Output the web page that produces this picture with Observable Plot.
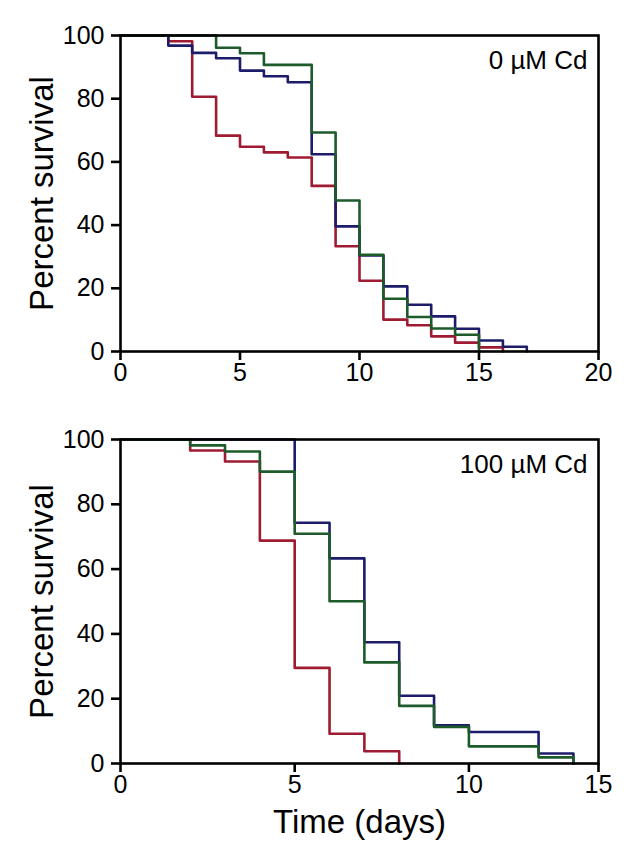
<!DOCTYPE html>
<html>
<head>
<meta charset="utf-8">
<script src="https://cdn.jsdelivr.net/npm/d3@7"></script>
<script src="https://cdn.jsdelivr.net/npm/@observablehq/plot@0.6"></script>
<style>
  html, body { margin: 0; padding: 0; background: #fff; }
  #chart { width: 637px; }
  #chart svg { display: block; }
</style>
</head>
<body>
<div id="chart"></div>
<script>
// ---- Data ----
const seriesNames = ["Strain A", "Strain B", "Strain C"];
const seriesColors = ["#9e1b32", "#1c1c6b", "#1d5b2b"];

// Panel 1: 0 µM Cd
const topTitle = "0 \u00b5M Cd";
const topAT = [0, 2, 3, 4, 5, 6, 7, 8, 9, 10, 11, 12, 13, 14, 15, 16];
const topAS = [100, 98.2, 80.6, 68.3, 64.8, 63.0, 61.4, 52.4, 33.3, 22.4, 10.1, 8.3, 4.8, 2.8, 1.3, 0];
const topBT = [0, 2, 3, 4, 5, 6, 7, 8, 9, 10, 11, 12, 13, 14, 15, 16, 17];
const topBS = [100, 96.8, 94.5, 92.8, 88.9, 87.1, 85.2, 62.4, 39.6, 30.4, 20.6, 14.8, 11.1, 7.2, 3.5, 1.5, 0];
const topCT = [0, 4, 5, 6, 8, 9, 10, 11, 12, 13, 14, 15];
const topCS = [100, 96.1, 94.4, 90.7, 69.3, 47.8, 30.6, 16.7, 10.9, 7.3, 5.3, 0];
const topXTicks = [0, 5, 10, 15, 20];

// Panel 2: 100 µM Cd
const bottomTitle = "100 \u00b5M Cd";
const botAT = [0, 2, 3, 4, 5, 6, 7, 8];
const botAS = [100, 96.6, 93.2, 68.8, 29.5, 9.2, 3.8, 0];
const botBT = [0, 5, 6, 7, 8, 9, 10, 12, 13];
const botBS = [100, 74.3, 63.3, 37.4, 20.9, 11.8, 9.7, 3.1, 0];
const botCT = [0, 2, 3, 4, 5, 6, 7, 8, 9, 10, 12, 13];
const botCS = [100, 98.2, 96.3, 90.1, 70.9, 50.1, 31.2, 17.8, 11.3, 5.3, 1.9, 0];
// the reference's last x tick ("15") sits at the frame edge, at ~13.72 on the data scale
const botXTickValues = [0, 5, 10, 13.72];
const botXTickLabels = ["0", "5", "10", "15"];

const yTicks = [0, 20, 40, 60, 80, 100];
const yLabel = "Percent survival";
const xLabel = "Time (days)";

// ---- helpers ----
function table(groups) {
  const rows = [];
  groups.forEach(([name, T, S]) => T.forEach((t, i) => rows.push({series: name, t, s: S[i]})));
  return rows;
}
const font = "'Liberation Sans', Arial, Helvetica, sans-serif";

function panel({data, title, xDomain, xTicks, xFormat, height, marginTop, marginBottom, withXLabel}) {
  const marks = [
    Plot.line(data, {x: "t", y: "s", z: "series", stroke: "series", curve: "step-after", strokeWidth: 2.6}),
    Plot.frame({stroke: "black", strokeWidth: 2.6}),
    Plot.axisY({ticks: yTicks, tickSize: 9, tickPadding: 7, fontSize: 25, strokeWidth: 2.6, label: null}),
    Plot.axisX({ticks: xTicks, tickFormat: xFormat, tickSize: 9, tickPadding: 3, fontSize: 25, strokeWidth: 2.6, label: null}),
    Plot.text([title], {text: d => d, frameAnchor: "top-right", textAnchor: "end", dx: -11, dy: 25, lineAnchor: "middle", fontSize: 26, fill: "black"}),
    Plot.text([yLabel], {text: d => d, frameAnchor: "left", textAnchor: "middle", dx: -78, rotate: -90, lineAnchor: "middle", fontSize: 33, fill: "black"})
  ];
  if (withXLabel) {
    marks.push(Plot.text([xLabel], {text: d => d, frameAnchor: "bottom", textAnchor: "middle", dy: 59, lineAnchor: "middle", fontSize: 33, fill: "black"}));
  }
  return Plot.plot({
    width: 637,
    height,
    marginLeft: 120,
    marginRight: 39,
    marginTop,
    marginBottom,
    style: {fontFamily: font, fontSize: "25px", background: "white", color: "black", overflow: "visible"},
    x: {domain: xDomain},
    y: {domain: [0, 100]},
    color: {domain: seriesNames, range: seriesColors},
    marks
  });
}

const topData = table([[seriesNames[0], topAT, topAS], [seriesNames[1], topBT, topBS], [seriesNames[2], topCT, topCS]]);
const botData = table([[seriesNames[0], botAT, botAS], [seriesNames[1], botBT, botBS], [seriesNames[2], botCT, botCS]]);

const chart = document.getElementById("chart");
chart.append(panel({
  data: topData, title: topTitle, xDomain: [0, 20], xTicks: topXTicks, xFormat: d => String(d),
  height: 400, marginTop: 35, marginBottom: 49, withXLabel: false
}));
chart.append(panel({
  data: botData, title: bottomTitle, xDomain: [0, botXTickValues[botXTickValues.length - 1]],
  xTicks: botXTickValues, xFormat: d => botXTickLabels[botXTickValues.indexOf(d)],
  height: 463, marginTop: 39, marginBottom: 100, withXLabel: true
}));
</script>
</body>
</html>
